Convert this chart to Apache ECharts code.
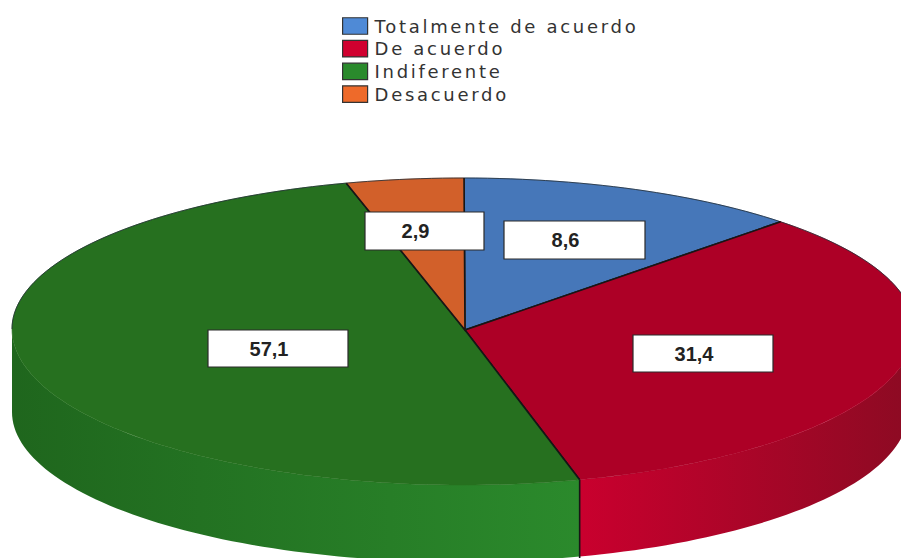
<!DOCTYPE html>
<html>
<head>
<meta charset="utf-8">
<style>
html,body{margin:0;padding:0;background:#fff}
#c{width:901px;height:558px}
#c svg text[style*="DejaVu"]{letter-spacing:2.7px}
</style>
<script src="https://cdn.jsdelivr.net/npm/echarts@6/dist/echarts.min.js"></script>
</head>
<body>
<div id="c"></div>
<script>
// Data
const categories = ['Totalmente de acuerdo', 'De acuerdo', 'Indiferente', 'Desacuerdo'];
const valueLabels = ['8,6', '31,4', '57,1', '2,9'];
// Share of the ellipse each slice occupies as drawn in the picture (%)
const drawnShares = [12.4, 33.4, 50.0, 4.2];

// Styles and layout
const topColors = ['#4677b9', '#ad0026', '#26701f', '#d2602a'];
const legendColors = ['#4f8ad6', '#d0002f', '#2a8a2c', '#ee6a2a'];
const sideStops = [null, ['#8e0a23', '#c9002e'], ['#1f661d', '#2b8a2c'], null];
const labelBoxes = [[504, 221, 141, 38], [633, 335, 140, 37], [208, 330, 140, 37], [365, 212, 119, 38]];
const startDeg = 0.13;
const vertex = [465, 330];
const topE = { cx: 463, cy: 329, rx: 451, ry: 151, ryFront: 156 };
const botE = { cx: 460, cy: 412, rx: 448, ry: 150, ryFront: 150 };

function pt(e, deg) {
  const r = deg * Math.PI / 180;
  const c = Math.cos(r);
  return [e.cx + e.rx * Math.sin(r), e.cy - (c > 0 ? e.ry : e.ryFront) * c];
}
function arc(e, a, b) {
  const n = Math.max(2, Math.ceil(Math.abs(b - a) / 1.5));
  const out = [];
  for (let i = 0; i <= n; i++) out.push(pt(e, a + (b - a) * i / n));
  return out;
}
// angle on the bottom ellipse directly below a front point of the top ellipse
function botDeg(topDeg) {
  const x = pt(topE, topDeg)[0];
  const s = Math.min(1, Math.max(-1, (x - botE.cx) / botE.rx));
  const d = Math.asin(s) * 180 / Math.PI;
  return 180 - d;
}
function sliceAngles(i) {
  let a = startDeg;
  for (let k = 0; k < i; k++) a += drawnShares[k] * 3.6;
  return [a, a + drawnShares[i] * 3.6];
}
const seam = { stroke: '#161616', lineWidth: 1.6, fill: null };

function renderSlice(i) {
  return function () {
    const [a, b] = sliceAngles(i);
    const children = [];
    // side wall, visible part only (front half)
    const sa = Math.max(a, 90), sb = Math.min(b, 270);
    if (sideStops[i] && sb > sa) {
      const ba = sa === 90 ? 90 : botDeg(sa);
      const bb = sb === 270 ? 270 : botDeg(sb);
      const pts = arc(topE, sa, sb).concat(arc(botE, bb, ba));
      const x0 = i === 1 ? 901 : 12;
      children.push({
        type: 'polygon',
        shape: { points: pts },
        style: {
          fill: {
            type: 'linear', global: true, x: x0, y: 0, x2: 580, y2: 0,
            colorStops: [
              { offset: 0, color: sideStops[i][0] },
              { offset: 1, color: sideStops[i][1] }
            ]
          },
          stroke: 'none',
          lineWidth: 0
        }
      });
      if (i === 2) {
        const p = pt(topE, a);
        children.push({
          type: 'polyline',
          shape: { points: [p, [p[0], 570]] },
          style: seam
        });
      }
    }
    // top face
    const rim = arc(topE, a, b);
    children.push({
      type: 'polygon',
      shape: { points: [vertex].concat(rim) },
      style: { fill: topColors[i], stroke: topColors[i], lineWidth: 0.6 }
    });
    // dark outline along the far edge
    const far = rim.filter(function (p) { return p[1] <= topE.cy + 2; });
    if (far.length > 1) {
      children.push({
        type: 'polyline',
        shape: { points: far },
        style: { stroke: '#1f2a33', lineWidth: 1, fill: null, opacity: 0.8 }
      });
    }
    children.push({
      type: 'polyline',
      shape: { points: [rim[0], vertex, rim[rim.length - 1]] },
      style: seam
    });
    // value box
    const box = labelBoxes[i];
    children.push({
      type: 'rect',
      shape: { x: box[0], y: box[1], width: box[2], height: box[3] },
      style: { fill: '#fff', stroke: '#2a2a2a', lineWidth: 1.2 }
    });
    children.push({
      type: 'text',
      style: {
        text: valueLabels[i],
        x: box[0] + box[2] / 2 - 9,
        y: box[1] + box[3] / 2,
        align: 'center',
        verticalAlign: 'middle',
        font: 'bold 20px "Liberation Sans", Arial, sans-serif',
        fill: '#222'
      }
    });
    return { type: 'group', children: children };
  };
}

const chart = echarts.init(document.getElementById('c'), null, { renderer: 'svg', width: 901, height: 558 });
chart.setOption({
  backgroundColor: '#fff',
  animation: false,
  legend: {
    left: 342,
    top: 17,
    orient: 'vertical',
    selectedMode: false,
    itemWidth: 25,
    itemHeight: 16.5,
    itemGap: 4.7,
    padding: 0,
    data: categories,
    icon: 'rect',
    itemStyle: { borderColor: '#333', borderWidth: 1.2 },
    textStyle: {
      fontFamily: '"DejaVu Sans"',
      fontSize: 18,
      lineHeight: 15,
      color: '#333',
      padding: [2, 0, 0, 2]
    }
  },
  series: categories.map(function (name, i) {
    return {
      type: 'custom',
      name: name,
      coordinateSystem: 'none',
      silent: true,
      itemStyle: { color: legendColors[i] },
      data: [[drawnShares[i]]],
      renderItem: renderSlice(i),
      z: 2 + i
    };
  })
});
</script>
</body>
</html>
